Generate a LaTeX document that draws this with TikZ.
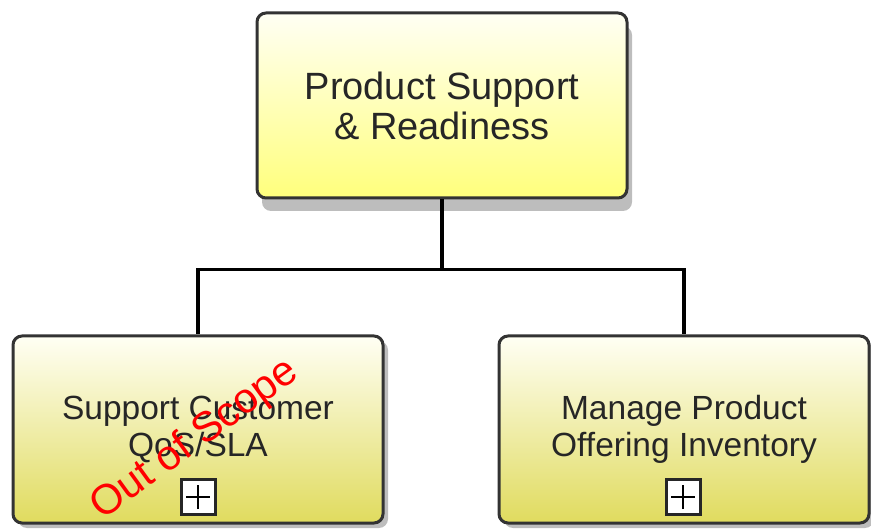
\documentclass[tikz,border=0pt]{standalone}
\usepackage{fontspec}
\setmainfont{Liberation Sans}
\usepackage{xcolor}
\usepackage{tikz}
\usetikzlibrary{shadows}
\definecolor{boxline}{HTML}{333333}
\definecolor{paletop}{HTML}{FFFFF4}
\definecolor{topfill}{HTML}{FFFF7C}
\definecolor{subfill}{HTML}{E0DB5E}
\definecolor{shadowgray}{HTML}{BDBDBD}

\begin{document}
\begin{tikzpicture}[x=1pt, y=-1pt]
\tikzstyle{process}=[rectangle, rounded corners=9pt, draw=boxline, line width=3pt, text=black!85, align=center, inner sep=0pt]
\tikzstyle{mainproc}=[process, minimum width=370pt, minimum height=185pt, top color=paletop, bottom color=topfill, general shadow={fill=shadowgray, shadow xshift=5pt, shadow yshift=-13pt}, font=\fontsize{38}{40}\selectfont]
\tikzstyle{subproc}=[process, minimum width=370pt, minimum height=187pt, top color=paletop, bottom color=subfill, general shadow={fill=shadowgray, shadow xshift=5pt, shadow yshift=-5pt}, font=\fontsize{33.5}{37}\selectfont]
\tikzstyle{expand}=[rectangle, draw=black!85, fill=white, line width=3pt, minimum size=34pt, inner sep=0pt, path picture={\draw[line width=2.2pt, black] (path picture bounding box.center) +(-12pt,0) -- +(12pt,0) +(0,-12pt) -- +(0,12pt);}]
\tikzstyle{link}=[line width=3.5pt, black]
\useasboundingbox (0,0) rectangle (871,529);

\node[mainproc] (psr) at (442,105.5) {Product Support\\\& Readiness};
\node[subproc] (scq) at (198,429.5) {Support Customer\\QoS/SLA};
\node[subproc] (mpoi) at (684,429.5) {Manage Product\\Offering Inventory};
\node[expand] (scqplus) at (198,497) {};
\node[expand] (mpoiplus) at (683,497) {};

\draw[link] (psr.south) -- ++(0,70) coordinate (fork);
\draw[link] (fork) -| (scq.north);
\draw[link] (fork) -| (mpoi.north);

\node[text=red, rotate=36, font=\fontsize{42}{44}\selectfont] (oos) at (195,440) {Out of Scope};

\end{tikzpicture}
\end{document}
